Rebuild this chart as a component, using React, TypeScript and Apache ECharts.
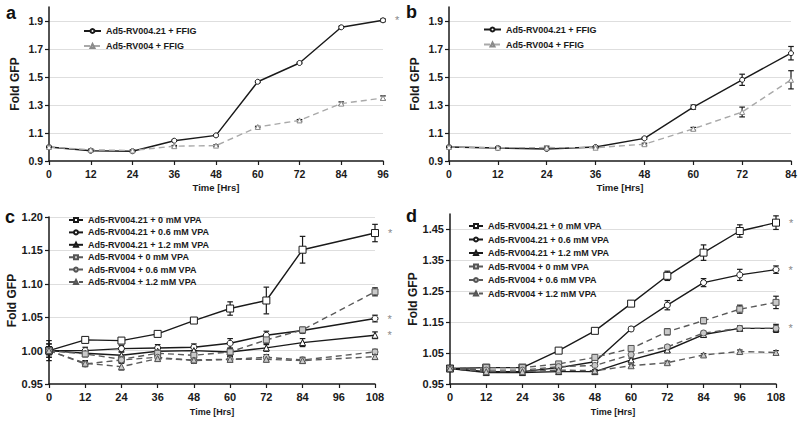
import { useEffect, useRef } from "react";
import * as echarts from "echarts";

// ---------- data ----------
const hoursA = [0, 12, 24, 36, 48, 60, 72, 84, 96];
const aRV21 = [1.0, 0.973, 0.97, 1.045, 1.083, 1.466, 1.6, 1.855, 1.905];
const aRV21Err = [0.005, 0.005, 0.005, 0.005, 0.005, 0.006, 0.005, 0.008, 0.01];
const aRV = [1.0, 0.98, 0.975, 1.006, 1.01, 1.143, 1.19, 1.31, 1.35];
const aRVErr = [0.005, 0.005, 0.005, 0.005, 0.005, 0.005, 0.006, 0.012, 0.015];

const hoursB = [0, 12, 24, 36, 48, 60, 72, 84];
const bRV21 = [1.0, 0.993, 0.986, 1.0, 1.062, 1.285, 1.48, 1.67];
const bRV21Err = [0.005, 0.005, 0.005, 0.005, 0.007, 0.015, 0.04, 0.048];
const bRV = [1.0, 0.995, 0.996, 0.995, 1.02, 1.13, 1.25, 1.48];
const bRVErr = [0.005, 0.005, 0.01, 0.005, 0.007, 0.01, 0.035, 0.065];

const hoursC = [0, 12, 24, 36, 48, 60, 72, 84, 108];
const cRV21_0 = [1.0, 1.016, 1.015, 1.025, 1.045, 1.063, 1.075, 1.151, 1.176];
const cRV21_0Err = [0.015, 0.003, 0.003, 0.003, 0.002, 0.01, 0.02, 0.02, 0.013];
const cRV21_06 = [1.0, 1.0, 1.003, 1.004, 1.005, 1.011, 1.023, 1.03, 1.048];
const cRV21_06Err = [0.01, 0.005, 0.005, 0.005, 0.005, 0.007, 0.006, 0.004, 0.005];
const cRV21_12 = [1.0, 0.996, 0.993, 0.999, 1.0, 0.998, 1.004, 1.012, 1.023];
const cRV21_12Err = [0.01, 0.005, 0.005, 0.005, 0.005, 0.005, 0.005, 0.006, 0.005];
const cRV_0 = [1.0, 0.995, 0.987, 0.996, 0.993, 0.998, 1.016, 1.031, 1.088];
const cRV_0Err = [0.006, 0.004, 0.004, 0.004, 0.004, 0.004, 0.005, 0.004, 0.006];
const cRV_06 = [1.0, 0.98, 0.986, 0.99, 0.985, 0.987, 0.99, 0.986, 0.998];
const cRV_06Err = [0.006, 0.004, 0.004, 0.004, 0.004, 0.004, 0.004, 0.004, 0.004];
const cRV_12 = [1.0, 0.981, 0.976, 0.988, 0.986, 0.987, 0.987, 0.985, 0.991];
const cRV_12Err = [0.006, 0.004, 0.005, 0.004, 0.004, 0.004, 0.004, 0.004, 0.004];

const hoursD = [0, 12, 24, 36, 48, 60, 72, 84, 96, 108];
const dRV21_0 = [1.0, 1.003, 1.003, 1.058, 1.122, 1.21, 1.3, 1.375, 1.445, 1.472];
const dRV21_0Err = [0.008, 0.004, 0.004, 0.004, 0.004, 0.008, 0.015, 0.025, 0.02, 0.022];
const dRV21_06 = [1.0, 0.99, 0.99, 1.003, 1.022, 1.128, 1.205, 1.278, 1.303, 1.32];
const dRV21_06Err = [0.008, 0.004, 0.004, 0.004, 0.004, 0.006, 0.015, 0.013, 0.018, 0.012];
const dRV21_12 = [1.0, 0.987, 0.987, 0.99, 0.99, 1.028, 1.06, 1.11, 1.13, 1.13];
const dRV21_12Err = [0.008, 0.004, 0.004, 0.004, 0.004, 0.006, 0.006, 0.008, 0.008, 0.013];
const dRV_0 = [1.0, 1.003, 1.003, 1.015, 1.036, 1.065, 1.119, 1.155, 1.192, 1.214];
const dRV_0Err = [0.006, 0.004, 0.004, 0.004, 0.004, 0.006, 0.01, 0.01, 0.013, 0.02];
const dRV_06 = [1.0, 0.995, 0.995, 1.006, 1.01, 1.045, 1.07, 1.115, 1.13, 1.13];
const dRV_06Err = [0.006, 0.004, 0.004, 0.004, 0.004, 0.005, 0.006, 0.006, 0.006, 0.008];
const dRV_12 = [1.0, 0.99, 0.99, 0.995, 0.993, 1.009, 1.019, 1.044, 1.055, 1.052];
const dRV_12Err = [0.006, 0.004, 0.004, 0.004, 0.004, 0.005, 0.005, 0.004, 0.005, 0.006];

const namesAB = ["Ad5-RV004.21 + FFIG", "Ad5-RV004 + FFIG"];
const namesCD = [
  "Ad5-RV004.21 + 0 mM VPA",
  "Ad5-RV004.21 + 0.6 mM VPA",
  "Ad5-RV004.21 + 1.2 mM VPA",
  "Ad5-RV004 + 0 mM VPA",
  "Ad5-RV004 + 0.6 mM VPA",
  "Ad5-RV004 + 1.2 mM VPA",
];
const panelLetters = ["a", "b", "c", "d"];
const yTitle = "Fold GFP";
const xTitle = "Time [Hrs]";

// ---------- styling ----------
const ARIAL = "'Liberation Sans', Arial, sans-serif";
const INK = "#1a1a1a";

type Sty = { color: string; dash: boolean; symbol: string; size: number; fill: string; border: string };
const solid = (symbol: string, size: number): Sty => ({ color: INK, dash: false, symbol, size, fill: "#fff", border: INK });
const dashedC = (symbol: string, size: number): Sty => ({ color: "#5a5a5a", dash: true, symbol, size, fill: "#c9c9c9", border: "#555" });
const dashedAB: Sty = { color: "#a9a9a9", dash: true, symbol: "triangle", size: 5, fill: "#fff", border: "#8a8a8a" };

const stylesAB: Sty[] = [solid("circle", 5), dashedAB];
const stylesCD: Sty[] = [
  solid("rect", 7),
  solid("circle", 6),
  solid("triangle", 6),
  dashedC("rect", 6),
  dashedC("circle", 6),
  dashedC("triangle", 6),
];

type Panel = {
  grid: { left: number; top: number; width: number; height: number };
  xs: number[];
  xMax: number;
  yMin: number;
  yMax: number;
  yInt: number;
  yDec: number;
  tickSize: number;
  xNameSize: number;
  yNameSize: number;
  names: string[];
  styles: Sty[];
  vals: number[][];
  errs: number[][];
  star: boolean[];
  legend: { left: number; top: number; itemWidth: number; gap: number; size: number };
  letter: { x: number; y: number };
};

const panels: Panel[] = [
  {
    grid: { left: 49, top: 7, width: 334, height: 154 },
    xs: hoursA, xMax: 96, yMin: 0.9, yMax: 2.0, yInt: 0.2, yDec: 1,
    tickSize: 10.5, xNameSize: 9.5, yNameSize: 12,
    names: namesAB, styles: stylesAB,
    vals: [aRV21, aRV], errs: [aRV21Err, aRVErr], star: [true, false],
    legend: { left: 83, top: 26, itemWidth: 17, gap: 5, size: 9 },
    letter: { x: 6, y: 4 },
  },
  {
    grid: { left: 449, top: 7, width: 342, height: 154 },
    xs: hoursB, xMax: 84, yMin: 0.9, yMax: 2.0, yInt: 0.2, yDec: 1,
    tickSize: 10.5, xNameSize: 9.5, yNameSize: 12,
    names: namesAB, styles: stylesAB,
    vals: [bRV21, bRV], errs: [bRV21Err, bRVErr], star: [false, false],
    legend: { left: 483, top: 24.5, itemWidth: 17, gap: 5, size: 9 },
    letter: { x: 406, y: 3 },
  },
  {
    grid: { left: 49, top: 217, width: 326, height: 167 },
    xs: hoursC, xMax: 108, yMin: 0.95, yMax: 1.2, yInt: 0.05, yDec: 2,
    tickSize: 11, xNameSize: 9, yNameSize: 12,
    names: namesCD, styles: stylesCD,
    vals: [cRV21_0, cRV21_06, cRV21_12, cRV_0, cRV_06, cRV_12],
    errs: [cRV21_0Err, cRV21_06Err, cRV21_12Err, cRV_0Err, cRV_06Err, cRV_12Err],
    star: [true, true, true, false, false, false],
    legend: { left: 68, top: 215, itemWidth: 14, gap: 2.4, size: 9 },
    letter: { x: 5, y: 208 },
  },
  {
    grid: { left: 450, top: 214, width: 326, height: 170 },
    xs: hoursD, xMax: 108, yMin: 0.95, yMax: 1.5, yInt: 0.1, yDec: 2,
    tickSize: 11, xNameSize: 9, yNameSize: 12,
    names: namesCD, styles: stylesCD,
    vals: [dRV21_0, dRV21_06, dRV21_12, dRV_0, dRV_06, dRV_12],
    errs: [dRV21_0Err, dRV21_06Err, dRV21_12Err, dRV_0Err, dRV_06Err, dRV_12Err],
    star: [true, true, true, false, false, false],
    legend: { left: 468, top: 221, itemWidth: 14, gap: 3.5, size: 9 },
    letter: { x: 406, y: 207 },
  },
];

const errRender = (_params: any, api: any) => {
  const x = api.value(0);
  const lo = api.value(1);
  const hi = api.value(2);
  const p1 = api.coord([x, hi]);
  const p2 = api.coord([x, lo]);
  const w = 2.8;
  const st = { stroke: INK, lineWidth: 1.2 };
  return {
    type: "group",
    children: [
      { type: "line", shape: { x1: p1[0], y1: p1[1], x2: p2[0], y2: p2[1] }, style: st },
      { type: "line", shape: { x1: p1[0] - w, y1: p1[1], x2: p1[0] + w, y2: p1[1] }, style: st },
      { type: "line", shape: { x1: p2[0] - w, y1: p2[1], x2: p2[0] + w, y2: p2[1] }, style: st },
    ],
  };
};

function buildOption() {
  const grid: any[] = [];
  const xAxis: any[] = [];
  const yAxis: any[] = [];
  const series: any[] = [];
  const legend: any[] = [];
  const graphic: any[] = [];

  panels.forEach((p, pi) => {
    grid.push({ ...p.grid, containLabel: false });
    xAxis.push({
      type: "value",
      gridIndex: pi,
      min: 0,
      max: p.xMax,
      interval: 12,
      name: xTitle,
      nameLocation: "middle",
      nameGap: pi < 2 ? 21 : 23,
      nameTextStyle: { fontFamily: ARIAL, fontWeight: "bold", fontSize: p.xNameSize, color: INK },
      axisLine: { show: true, onZero: false, lineStyle: { color: INK, width: 1.5 } },
      axisTick: { show: true, length: 4, lineStyle: { color: INK, width: 1.2 } },
      axisLabel: { fontFamily: ARIAL, fontWeight: "bold", fontSize: p.tickSize, color: INK, margin: 7 },
      splitLine: { show: false },
    });
    yAxis.push({
      type: "value",
      gridIndex: pi,
      min: p.yMin,
      max: p.yMax,
      interval: p.yInt,
      name: yTitle,
      nameLocation: "middle",
      nameRotate: 90,
      nameGap: 28,
      nameTextStyle: { fontFamily: ARIAL, fontWeight: "bold", fontSize: p.yNameSize, color: INK },
      axisLine: { show: true, onZero: false, lineStyle: { color: INK, width: 1.5 } },
      axisTick: { show: true, length: 4, lineStyle: { color: INK, width: 1.2 } },
      axisLabel: {
        fontFamily: ARIAL,
        fontWeight: "bold",
        fontSize: p.tickSize,
        color: INK,
        margin: 6,
        showMaxLabel: pi === 2,
        formatter: (v: number) => v.toFixed(p.yDec),
      },
      splitLine: { show: true, showMaxLine: pi === 2, showMinLine: false, lineStyle: { color: "#dedede", width: 1 } },
    });

    p.names.forEach((name, si) => {
      const st = p.styles[si];
      const vals = p.vals[si];
      const last = vals.length - 1;
      series.push({
        type: "line",
        name,
        xAxisIndex: pi,
        yAxisIndex: pi,
        z: 3,
        symbol: st.symbol,
        symbolSize: st.size,
        showAllSymbol: true,
        lineStyle: { color: st.color, width: 1.4, type: st.dash ? [6, 4] : "solid" },
        itemStyle: { color: st.fill, borderColor: st.border, borderWidth: 1 },
        data: vals.map((v, i) =>
          i === last && p.star[si]
            ? {
                value: [p.xs[i], v],
                label: { show: true, formatter: "*", position: "right", distance: 9, color: "#888", fontSize: 11, fontFamily: ARIAL },
              }
            : [p.xs[i], v]
        ),
      });
      series.push({
        type: "custom",
        name: `err-${pi}-${si}`,
        xAxisIndex: pi,
        yAxisIndex: pi,
        z: 2,
        renderItem: errRender,
        encode: { x: 0, y: [1, 2] },
        data: vals.map((v, i) => [p.xs[i], v - p.errs[si][i], v + p.errs[si][i]]),
      });
    });

    legend.push({
      data: p.names,
      orient: "vertical",
      left: p.legend.left,
      top: p.legend.top,
      itemWidth: p.legend.itemWidth,
      itemHeight: 5,
      itemGap: p.legend.gap,
      padding: 0,
      selectedMode: false,
      textStyle: { fontFamily: ARIAL, fontWeight: "bold", fontSize: p.legend.size, color: INK, lineHeight: 10 },
    });

    graphic.push({
      type: "text",
      left: p.letter.x,
      top: p.letter.y,
      style: { text: panelLetters[pi], font: `bold 18px ${ARIAL}`, fill: "#111" },
    });
  });

  return { animation: false, backgroundColor: "#fff", grid, xAxis, yAxis, series, legend, graphic };
}

export default function App() {
  const ref = useRef<HTMLDivElement>(null);
  useEffect(() => {
    if (!ref.current) return;
    const chart = echarts.init(ref.current, undefined, { renderer: "svg" });
    chart.setOption(buildOption() as any);
    return () => chart.dispose();
  }, []);
  return <div ref={ref} style={{ width: 800, height: 423, position: "absolute", left: 0, top: 0 }} />;
}
